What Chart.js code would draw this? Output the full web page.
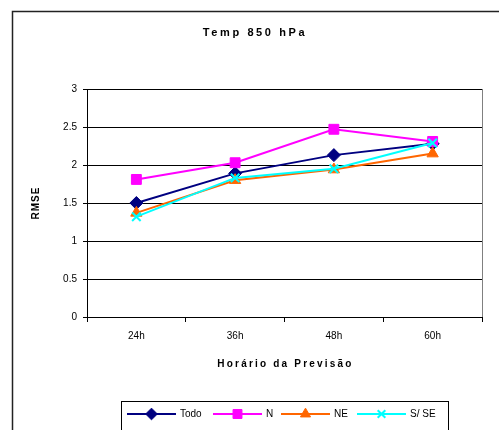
<!DOCTYPE html>
<html>
<head>
<meta charset="utf-8">
<script src="https://cdn.jsdelivr.net/npm/chart.js@4/dist/chart.umd.min.js"></script>
<style>
html,body{margin:0;padding:0;background:#fff;}
#wrap{width:499px;height:430px;position:relative;}
</style>
</head>
<body>
<div id="wrap"><canvas id="c" width="499" height="430"></canvas></div>
<script>
const chartTitle = "Temp 850 hPa";
const xTitle = "Horário da Previsão";
const yTitle = "RMSE";
const categories = ["24h", "36h", "48h", "60h"];
const seriesNames = ["Todo", "N", "NE", "S/ SE"];
const todo = [1.50, 1.89, 2.13, 2.28];
const norte = [1.81, 2.03, 2.47, 2.31];
const nordeste = [1.37, 1.80, 1.94, 2.15];
const sulSudeste = [1.32, 1.83, 1.95, 2.29];
const yMin = 0, yMax = 3, yStep = 0.5;

const colors = ["#000080", "#FF00FF", "#FF6600", "#00FFFF"];
const styles = ["rectRot", "rect", "triangle", "crossRot"];
const radii = [6.5, 7, 6.5, 6];
const values = [todo, norte, nordeste, sulSudeste];

const datasets = values.map((v, i) => ({
  label: seriesNames[i],
  data: v,
  borderColor: colors[i],
  backgroundColor: colors[i],
  pointBackgroundColor: colors[i],
  pointBorderColor: colors[i],
  pointStyle: styles[i],
  pointRadius: radii[i],
  pointHoverRadius: radii[i],
  pointBorderWidth: i === 3 ? 2 : 1,
  borderWidth: 2,
  tension: 0,
  order: 4 - i
}));

const FONT = "'Liberation Sans', Arial, sans-serif";

const decor = {
  id: 'decor',
  beforeDraw(chart) {
    const ctx = chart.ctx;
    ctx.save();
    ctx.fillStyle = '#fff';
    ctx.fillRect(0, 0, chart.width, chart.height);
    ctx.restore();
  },
  afterDraw(chart) {
    const ctx = chart.ctx;
    const ca = chart.chartArea;
    ctx.save();
    // outer frame
    ctx.strokeStyle = '#222';
    ctx.lineWidth = 1.5;
    ctx.beginPath();
    ctx.moveTo(12.5, 440);
    ctx.lineTo(12.5, 11.5);
    ctx.lineTo(510, 11.5);
    ctx.stroke();
    // right border of plot area
    ctx.strokeStyle = '#808080';
    ctx.lineWidth = 1;
    ctx.beginPath();
    ctx.moveTo(Math.round(ca.right) + 0.5, ca.top);
    ctx.lineTo(Math.round(ca.right) + 0.5, ca.bottom);
    ctx.stroke();
    // title
    ctx.fillStyle = '#000';
    ctx.textAlign = 'center';
    ctx.textBaseline = 'middle';
    ctx.font = 'bold 11px ' + FONT;
    ctx.letterSpacing = '2.6px';
    ctx.fillText(chartTitle, 255, 33);
    // x title
    ctx.font = 'bold 10px ' + FONT;
    ctx.letterSpacing = '2.2px';
    ctx.fillText(xTitle, (ca.left + ca.right) / 2 + 1, 364);
    // y title
    ctx.save();
    ctx.translate(36, (ca.top + ca.bottom) / 2);
    ctx.rotate(-Math.PI / 2);
    ctx.font = 'bold 10px ' + FONT;
    ctx.letterSpacing = '1px';
    ctx.fillText(yTitle, 0, 0);
    ctx.restore();
    ctx.letterSpacing = '0px';
    // legend box
    ctx.strokeStyle = '#000';
    ctx.lineWidth = 1;
    ctx.strokeRect(121.5, 401.5, 327, 40);
    const starts = [127, 213, 281, 357];
    const ly = 414;
    ctx.font = '10px ' + FONT;
    ctx.textAlign = 'left';
    ctx.textBaseline = 'middle';
    chart.data.datasets.forEach((ds, i) => {
      const x0 = starts[i];
      ctx.strokeStyle = ds.borderColor;
      ctx.lineWidth = 2;
      ctx.beginPath();
      ctx.moveTo(x0, ly);
      ctx.lineTo(x0 + 49, ly);
      ctx.stroke();
      ctx.fillStyle = ds.pointBackgroundColor;
      ctx.strokeStyle = ds.pointBorderColor;
      ctx.lineWidth = ds.pointBorderWidth;
      Chart.helpers.drawPoint(ctx, {pointStyle: ds.pointStyle, rotation: 0, borderWidth: ds.pointBorderWidth, radius: ds.pointRadius * 0.9}, x0 + 24.5, ly);
      ctx.fillStyle = '#000';
      ctx.fillText(ds.label, x0 + 53, ly + 0.5);
    });
    ctx.restore();
  }
};

new Chart(document.getElementById('c'), {
  type: 'line',
  data: { labels: categories, datasets: datasets },
  options: {
    responsive: false,
    animation: false,
    devicePixelRatio: 1,
    layout: { padding: { left: 0, top: 89, right: 17, bottom: 0 } },
    plugins: {
      legend: { display: false },
      title: { display: false },
      tooltip: { enabled: false }
    },
    scales: {
      x: {
        type: 'category',
        offset: true,
        afterFit(scale) { scale.height = 113; },
        grid: {
          offset: true,
          drawOnChartArea: false,
          drawTicks: true,
          tickLength: 5,
          color: '#000',
          lineWidth: 1
        },
        border: { display: true, color: '#000', width: 1 },
        ticks: {
          color: '#000',
          font: { family: FONT, size: 10 },
          padding: 8,
          maxRotation: 0
        }
      },
      y: {
        min: yMin,
        max: yMax,
        afterFit(scale) { scale.width = 87; },
        ticks: {
          stepSize: yStep,
          color: '#000',
          font: { family: FONT, size: 10 },
          padding: 6,
          callback: (v) => String(Number(v))
        },
        grid: {
          color: '#000',
          lineWidth: 1,
          drawTicks: true,
          tickLength: 4
        },
        border: { display: true, color: '#000', width: 1 }
      }
    }
  },
  plugins: [decor]
});
</script>
</body>
</html>
